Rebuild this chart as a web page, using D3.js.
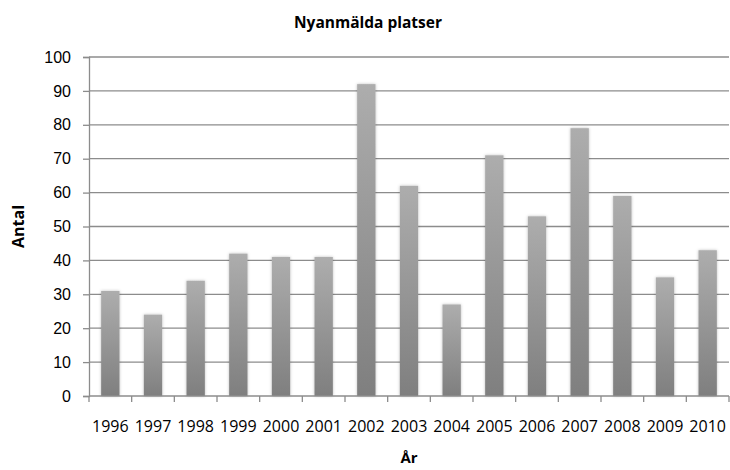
<!doctype html>
<html lang="sv">
<head>
<meta charset="utf-8">
<title>Nyanmälda platser</title>
<script src="https://cdn.jsdelivr.net/npm/d3@7"></script>
<style>
  body { margin: 0; background: #fff; }
  svg { font-family: "Open Sans", sans-serif; }
</style>
</head>
<body>
<div id="chart"></div>
<script>
  const years = ['1996', '1997', '1998', '1999', '2000', '2001', '2002', '2003',
    '2004', '2005', '2006', '2007', '2008', '2009', '2010'];
  const counts = [31, 24, 34, 42, 41, 41, 92, 62, 27, 71, 53, 79, 59, 35, 43];
  const yTicks = [0, 10, 20, 30, 40, 50, 60, 70, 80, 90, 100];

  const width = 730, height = 470;
  const margin = { top: 57, right: 1, bottom: 74, left: 89 };

  const svg = d3.select('#chart').append('svg')
    .attr('width', width)
    .attr('height', height);

  const defs = svg.append('defs');
  const grad = defs.append('linearGradient')
    .attr('id', 'barGrad')
    .attr('x1', 0).attr('y1', 0).attr('x2', 0).attr('y2', 1);
  grad.append('stop').attr('offset', '0%').attr('stop-color', '#adadad');
  grad.append('stop').attr('offset', '100%').attr('stop-color', '#7f7f7f');

  const shadow = defs.append('filter').attr('id', 'shadow')
    .attr('x', '-30%').attr('y', '-5%').attr('width', '160%').attr('height', '110%');
  shadow.append('feDropShadow')
    .attr('dx', 0).attr('dy', 0).attr('stdDeviation', 1.5)
    .attr('flood-color', '#000').attr('flood-opacity', 0.25);

  const x = d3.scaleBand()
    .domain(years)
    .range([margin.left, width - margin.right])
    .paddingInner(0.57)
    .paddingOuter(0.285);

  const y = d3.scaleLinear()
    .domain([0, 100])
    .range([height - margin.bottom, margin.top]);

  // grid
  svg.append('g')
    .selectAll('line')
    .data(yTicks.slice(1))
    .join('line')
    .attr('x1', margin.left)
    .attr('x2', width - margin.right)
    .attr('y1', d => y(d))
    .attr('y2', d => y(d))
    .attr('stroke', '#8c8c8c')
    .attr('stroke-width', 1.3);

  // bars
  svg.append('g')
    .selectAll('rect')
    .data(counts)
    .join('rect')
    .attr('x', (d, i) => x(years[i]))
    .attr('y', d => y(d))
    .attr('width', x.bandwidth())
    .attr('height', d => y(0) - y(d))
    .attr('fill', 'url(#barGrad)')
    .attr('filter', 'url(#shadow)');

  // y axis
  const yAxis = svg.append('g')
    .attr('transform', `translate(${margin.left},0)`)
    .call(d3.axisLeft(y).tickValues(yTicks).tickSize(6).tickPadding(12));
  yAxis.selectAll('line, path').attr('stroke', '#8c8c8c').attr('stroke-width', 1.3);
  yAxis.selectAll('text').attr('font-size', 16).attr('fill', '#000');

  // x axis
  const xTickPos = years.map((yr, i) => margin.left + i * x.step());
  const xAxis = svg.append('g')
    .attr('transform', `translate(0,${y(0)})`);
  xAxis.append('line')
    .attr('x1', margin.left).attr('x2', width - margin.right)
    .attr('stroke', '#8c8c8c').attr('stroke-width', 1.3);
  xAxis.selectAll('line.tick')
    .data(xTickPos.concat([width - margin.right]))
    .join('line')
    .attr('class', 'tick')
    .attr('x1', d => d).attr('x2', d => d)
    .attr('y1', 0).attr('y2', 6)
    .attr('stroke', '#8c8c8c').attr('stroke-width', 1.3);
  xAxis.selectAll('text')
    .data(years)
    .join('text')
    .attr('x', d => x(d) + x.bandwidth() / 2)
    .attr('y', 36)
    .attr('text-anchor', 'middle')
    .attr('font-size', 16)
    .text(d => d);

  // titles
  svg.append('text')
    .attr('x', 368).attr('y', 28)
    .attr('text-anchor', 'middle')
    .attr('font-size', 15.5).attr('font-weight', 'bold')
    .text('Nyanmälda platser');

  svg.append('text')
    .attr('x', (margin.left + width - margin.right) / 2).attr('y', 463)
    .attr('text-anchor', 'middle')
    .attr('font-size', 15).attr('font-weight', 'bold')
    .text('År');

  svg.append('text')
    .attr('transform', `translate(24,${(y(0) + y(100)) / 2}) rotate(-90)`)
    .attr('text-anchor', 'middle')
    .attr('font-size', 16).attr('font-weight', 'bold')
    .text('Antal');
</script>
</body>
</html>
